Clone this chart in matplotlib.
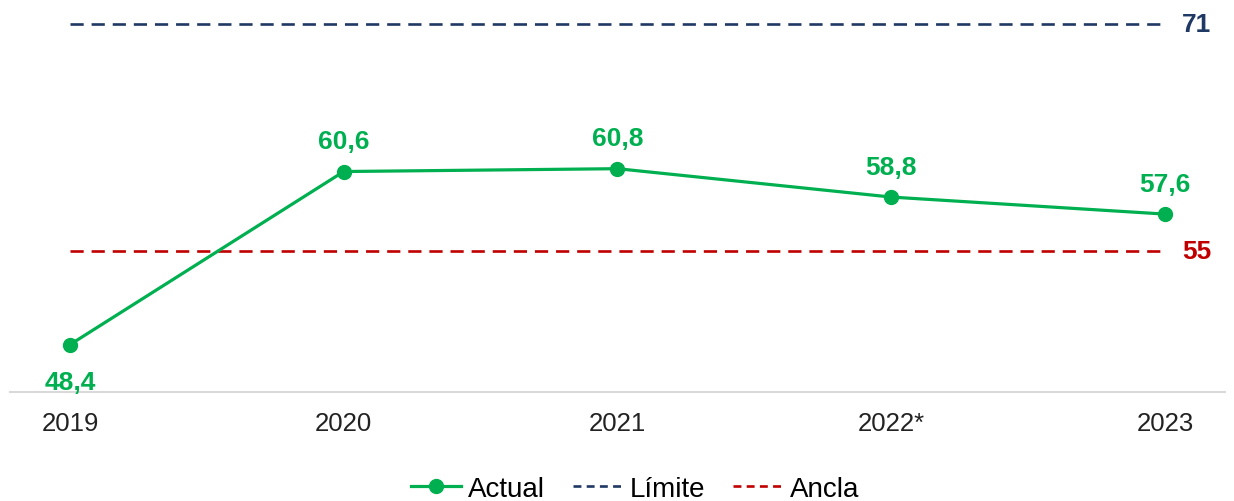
import matplotlib
matplotlib.use("Agg")
from matplotlib import pyplot as plt
from matplotlib.lines import Line2D

years = ["2019", "2020", "2021", "2022*", "2023"]
actual = [48.4, 60.6, 60.8, 58.8, 57.6]
limite = 71
ancla = 55

green = "#00B050"
navy = "#1F3864"
red = "#C00000"

plt.rcParams['font.family'] = ['Liberation Sans', 'DejaVu Sans']

fig = plt.figure(figsize=(12.34, 5.02), dpi=100)
ax = fig.add_axes([0, 0.2171, 1, 0.7829])

x = list(range(len(years)))
ax.plot(x, actual, color=green, lw=2.3, marker="o", markersize=10, zorder=3)
ax.plot([x[0], x[-1]], [limite, limite], color=navy, lw=1.9, ls=(0, (5, 3)))
ax.plot([x[0], x[-1]], [ancla, ancla], color=red, lw=1.9, ls=(0, (5, 3)))

# data labels
for xi, v in zip(x, actual):
    off = -27 if xi == 0 else 22
    ax.annotate(f"{v:.1f}".replace(".", ","), (xi, v), xytext=(0, off),
                textcoords="offset points", ha="center", va="center",
                color=green, fontsize=19, fontweight="bold")

ax.text(4.062, limite, str(limite), color=navy, fontsize=19, fontweight="bold",
        ha="left", va="center")
ax.text(4.062, ancla, str(ancla), color=red, fontsize=19, fontweight="bold",
        ha="left", va="center")

ax.set_xlim(-70 / 273.75, (1234 - 70) / 273.75)
ax.set_ylim(45.06, 72.76)
ax.set_xticks(x)
ax.set_xticklabels(years, fontsize=18.5, color="#222222")
ax.tick_params(axis="x", length=0, pad=14)
ax.set_yticks([])
for s in ["top", "left", "right"]:
    ax.spines[s].set_visible(False)
ax.spines["bottom"].set_color("#D9D9D9")
ax.spines["bottom"].set_linewidth(1.5)
ax.spines["bottom"].set_bounds(-60 / 273.75, (1225 - 70) / 273.75)
ax.patch.set_alpha(0)

handles = [
    Line2D([], [], color=green, lw=2.3, marker="o", markersize=10),
    Line2D([], [], color=navy, lw=1.9, ls=(0, (3, 2))),
    Line2D([], [], color=red, lw=1.9, ls=(0, (3, 2))),
]
fig.legend(handles, ["Actual", "Límite", "Ancla"], loc="center",
           bbox_to_anchor=(0.515, 0.024), ncol=3, frameon=False, fontsize=20,
           handlelength=1.8, handletextpad=0.25, columnspacing=1.0)

fig.savefig("out.png", dpi=100)
